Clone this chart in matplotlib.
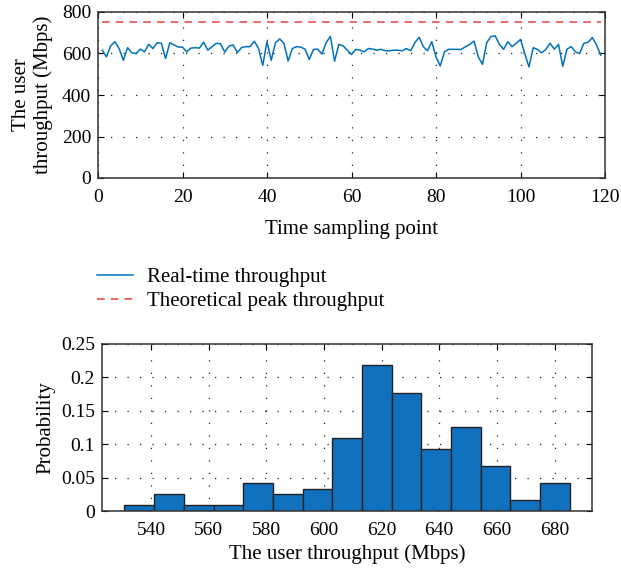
import matplotlib.pyplot as plt
import numpy as np

plt.rcParams['font.family'] = ['Liberation Serif', 'DejaVu Serif']

# time series, samples 1..119 (Mbps)
samples = list(range(1, 120))
throughput = [
    616, 584, 637, 657, 624, 567, 628, 603, 600, 621,
    608, 644, 624, 652, 649, 576, 652, 641, 631, 631,
    608, 626, 628, 626, 655, 616, 633, 649, 647, 607,
    636, 641, 605, 629, 633, 633, 659, 624, 543, 657,
    567, 652, 670, 649, 564, 624, 633, 631, 621, 571,
    620, 621, 597, 652, 682, 563, 644, 637, 616, 595,
    620, 616, 608, 624, 621, 616, 620, 613, 613, 616,
    616, 613, 624, 613, 652, 678, 633, 613, 657, 584,
    540, 608, 620, 620, 620, 620, 633, 644, 660, 584,
    548, 652, 682, 685, 644, 620, 657, 633, 649, 668,
    600, 535, 628, 620, 603, 620, 649, 621, 644, 538,
    621, 633, 608, 600, 649, 654, 677, 641, 592,
]
peak = 750

# histogram of throughput
bin_left = 530.8
bin_width = 10.3
probability = [
    0.0084, 0.0252, 0.0084, 0.0084, 0.042, 0.0252, 0.0336, 0.109,
    0.2185, 0.1765, 0.0924, 0.126, 0.0672, 0.0168, 0.042,
]

blue = '#0072BD'
grid_kw = dict(color='#222222', linestyle=(0, (1, 9)), linewidth=0.9)

fig = plt.figure(figsize=(6.21, 5.76), dpi=100)

# top: time series
ax1 = fig.add_axes([98 / 621, 1 - 178 / 576, 507 / 621, 166 / 576])
ax1.plot(samples, throughput, color=blue, linewidth=1.1, label='Real-time throughput')
ax1.plot(samples, [peak] * len(samples), color='#E5403F', linestyle=(0, (5, 4)),
         linewidth=1.1, label='Theoretical peak throughput')
ax1.set_xlim(0, 120)
ax1.set_ylim(0, 800)
ax1.set_xticks(range(0, 121, 20))
ax1.set_yticks(range(0, 801, 200))
ax1.grid(True, **grid_kw)
ax1.set_xlabel('Time sampling point', fontsize=15, labelpad=10)
ax1.set_ylabel('The user\nthroughput (Mbps)', fontsize=15, labelpad=6)

# bottom: histogram
ax2 = fig.add_axes([102 / 621, 1 - 511 / 576, 490 / 621, 167 / 576])
edges = bin_left + bin_width * np.arange(len(probability))
ax2.bar(edges, probability, width=bin_width, align='edge', color='#1171BE',
        edgecolor='#222222', linewidth=1.0)
ax2.set_xlim(523, 693)
ax2.set_ylim(0, 0.25)
ax2.set_xticks(range(540, 681, 20))
ax2.set_yticks([0, 0.05, 0.1, 0.15, 0.2, 0.25])
ax2.set_yticklabels(['0', '0.05', '0.1', '0.15', '0.2', '0.25'])
ax2.set_axisbelow(True)
ax2.grid(True, **grid_kw)
ax2.set_xlabel('The user throughput (Mbps)', fontsize=15, labelpad=4)
ax2.set_ylabel('Probability', fontsize=15, labelpad=4)

for ax in (ax1, ax2):
    ax.tick_params(direction='in', top=True, right=True, labelsize=14,
                   length=4, pad=5)
    ax.tick_params(axis='x', pad=8)
    for s in ax.spines.values():
        s.set_color('#333333')
        s.set_linewidth(1.1)

h, l = ax1.get_legend_handles_labels()
fig.legend(h, l, loc='upper left', bbox_to_anchor=(78 / 621, 1 - 249 / 576),
           frameon=False, fontsize=15, handlelength=1.75, handletextpad=0.65,
           labelspacing=0.2)

fig.savefig('out.png', dpi=100)
